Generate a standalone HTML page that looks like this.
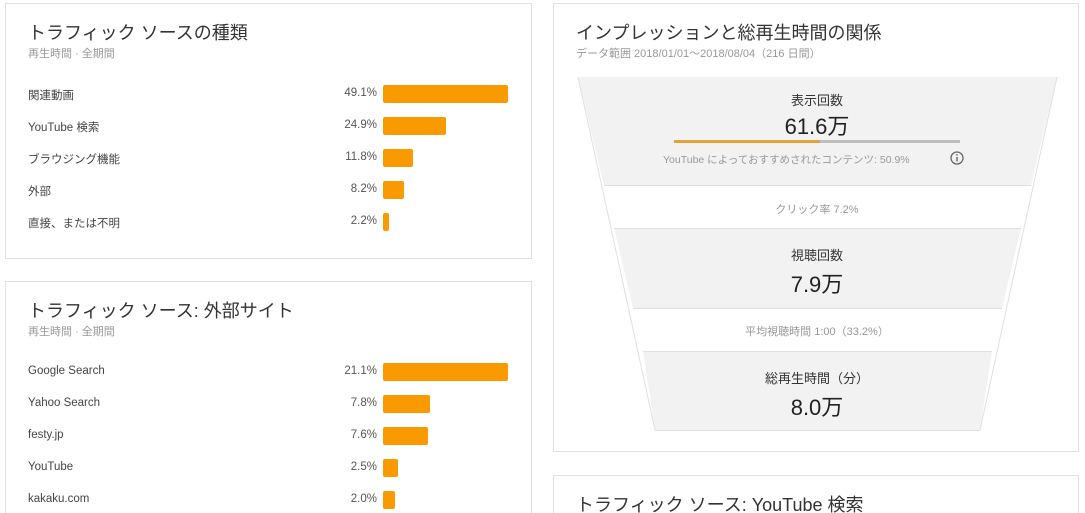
<!DOCTYPE html>
<html style="overflow:hidden"><head><meta charset="utf-8"><style>
html,body{margin:0;width:1085px;height:513px;overflow:hidden}
body{background:#fff;position:relative;font-family:"Liberation Sans","Noto Sans CJK JP",sans-serif;}
.card{position:absolute;border:1px solid #e0e0e0;background:#fff;box-sizing:border-box;overflow:hidden}
.t{position:absolute;left:22px;font-size:18px;color:#333;white-space:nowrap}
.s{position:absolute;left:22px;font-size:11px;color:#999;white-space:nowrap}
.lab{position:absolute;left:22px;font-size:11.5px;color:#444;white-space:nowrap}
.pct{position:absolute;right:154px;font-size:11.5px;color:#555;text-align:right}
.bar{position:absolute;left:377px;height:18px;background:#f99b00;border-radius:2px}
.c{position:absolute;text-align:center;white-space:nowrap}
</style></head><body>

<div class="card" style="left:5px;top:3px;width:527px;height:256px">
<div class="t" style="top:15px">トラフィック ソースの種類</div>
<div class="s" style="top:41px">再生時間 · 全期間</div>
<div class="lab" style="top:83px">関連動画</div><div class="pct" style="top:83px">49.1%</div><div class="bar" style="top:81px;width:125px"></div>
<div class="lab" style="top:115px">YouTube 検索</div><div class="pct" style="top:115px">24.9%</div><div class="bar" style="top:113px;width:63px"></div>
<div class="lab" style="top:147px">ブラウジング機能</div><div class="pct" style="top:147px">11.8%</div><div class="bar" style="top:145px;width:30px"></div>
<div class="lab" style="top:179px">外部</div><div class="pct" style="top:179px">8.2%</div><div class="bar" style="top:177px;width:21px"></div>
<div class="lab" style="top:211px">直接、または不明</div><div class="pct" style="top:211px">2.2%</div><div class="bar" style="top:209px;width:6px"></div>
</div>

<div class="card" style="left:5px;top:281px;width:527px;height:232px;border-bottom:none">
<div class="t" style="top:15px">トラフィック ソース: 外部サイト</div>
<div class="s" style="top:41px">再生時間 · 全期間</div>
<div class="lab" style="top:83px">Google Search</div><div class="pct" style="top:83px">21.1%</div><div class="bar" style="top:81px;width:125px"></div>
<div class="lab" style="top:115px">Yahoo Search</div><div class="pct" style="top:115px">7.8%</div><div class="bar" style="top:113px;width:47px"></div>
<div class="lab" style="top:147px">festy.jp</div><div class="pct" style="top:147px">7.6%</div><div class="bar" style="top:145px;width:45px"></div>
<div class="lab" style="top:179px">YouTube</div><div class="pct" style="top:179px">2.5%</div><div class="bar" style="top:177px;width:15px"></div>
<div class="lab" style="top:211px">kakaku.com</div><div class="pct" style="top:211px">2.0%</div><div class="bar" style="top:209px;width:12px"></div>
</div>

<div class="card" style="left:553px;top:3px;width:526px;height:449px">
<div class="t" style="top:15px">インプレッションと総再生時間の関係</div>
<div class="s" style="top:41px">データ範囲 2018/01/01〜2018/08/04（216 日間）</div>
</div>

<svg style="position:absolute;left:0;top:0" width="1085" height="513">
<polygon points="578,77 1057,77 1031,185 604,185" fill="#f2f2f2"/>
<polygon points="604,185 1031,185 1021,228 614,228" fill="#fff"/>
<polygon points="614,228 1021,228 1002,308 633,308" fill="#f2f2f2"/>
<polygon points="633,308 1002,308 992,351 643,351" fill="#fff"/>
<polygon points="643,351 992,351 980,430 655,430" fill="#f2f2f2"/>
<g stroke="#e0e0e0" stroke-width="1" fill="none">
<line x1="578" y1="77" x2="655" y2="430"/><line x1="1057" y1="77" x2="980" y2="430"/>
<line x1="604" y1="185.5" x2="1031" y2="185.5"/><line x1="614" y1="228.5" x2="1021" y2="228.5"/>
<line x1="633" y1="308.5" x2="1002" y2="308.5"/><line x1="643" y1="351.5" x2="992" y2="351.5"/>
<line x1="655" y1="430.5" x2="980" y2="430.5"/>
</g>
<rect x="674" y="140" width="146" height="3" fill="#e8a23a"/>
<rect x="820" y="140" width="140" height="3" fill="#bdbdbd"/>
<circle cx="957" cy="158" r="6" fill="none" stroke="#666" stroke-width="1.3"/>
<rect x="956.3" y="157" width="1.4" height="4.5" fill="#666"/><rect x="956.3" y="154" width="1.4" height="1.5" fill="#666"/>
</svg>

<div class="c" style="left:717px;width:200px;top:90px;font-size:13px;color:#333">表示回数</div>
<div class="c" style="left:717px;width:200px;top:109px;font-size:22px;color:#222">61.6万</div>
<div style="position:absolute;left:663px;top:152px;font-size:10.5px;color:#999;white-space:nowrap">YouTube によっておすすめされたコンテンツ: 50.9%</div>
<div class="c" style="left:717px;width:200px;top:201px;font-size:11px;color:#999">クリック率 7.2%</div>
<div class="c" style="left:717px;width:200px;top:245px;font-size:13px;color:#333">視聴回数</div>
<div class="c" style="left:717px;width:200px;top:267px;font-size:22px;color:#222">7.9万</div>
<div class="c" style="left:717px;width:200px;top:323px;font-size:11px;color:#999">平均視聴時間 1:00（33.2%）</div>
<div class="c" style="left:717px;width:200px;top:368px;font-size:13px;color:#333">総再生時間（分）</div>
<div class="c" style="left:717px;width:200px;top:390px;font-size:22px;color:#222">8.0万</div>

<div class="card" style="left:553px;top:475px;width:526px;height:38px;border-bottom:none">
<div class="t" style="top:15px">トラフィック ソース: YouTube 検索</div>
</div>
</body></html>
